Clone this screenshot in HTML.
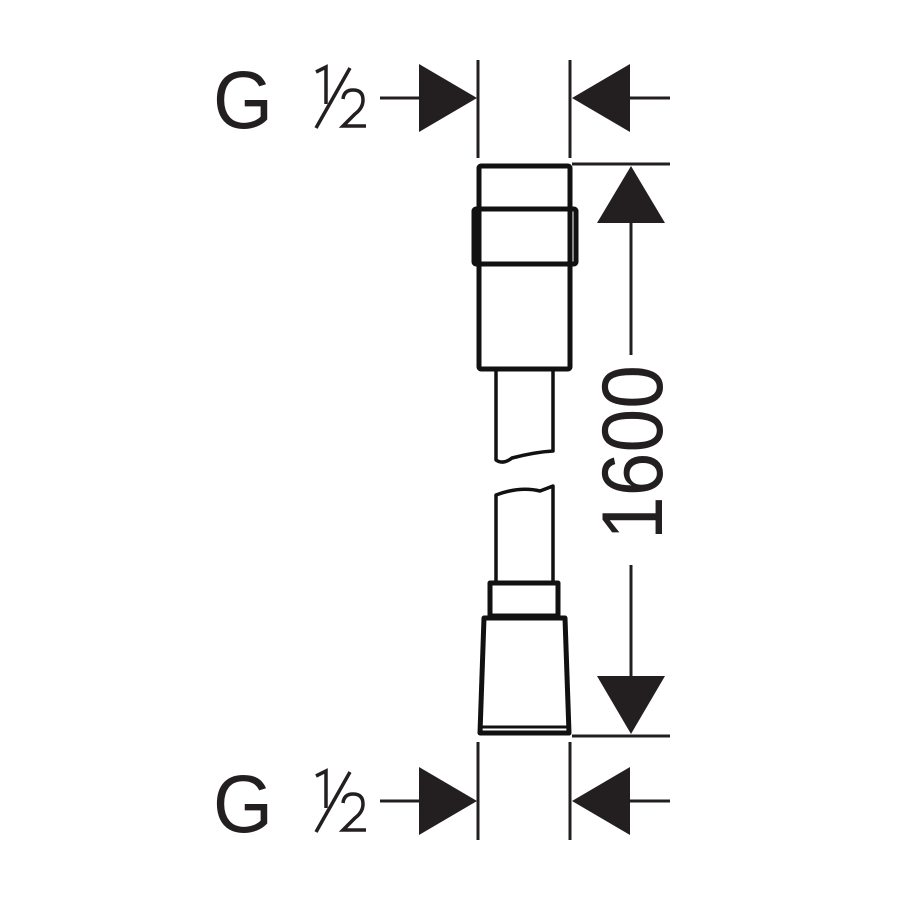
<!DOCTYPE html>
<html><head><style>html,body{margin:0;padding:0;background:#fff}svg{display:block}</style></head>
<body>
<svg width="900" height="900" viewBox="0 0 900 900" xmlns="http://www.w3.org/2000/svg">
<g stroke="#231f20" fill="none" stroke-width="3">
<line x1="478" y1="60" x2="478" y2="158"/>
<line x1="570" y1="60" x2="570" y2="158"/>
<line x1="380" y1="98" x2="420" y2="98"/>
<line x1="630" y1="98" x2="670" y2="98"/>
<line x1="478" y1="742" x2="478" y2="840"/>
<line x1="570" y1="742" x2="570" y2="840"/>
<line x1="380" y1="801" x2="420" y2="801"/>
<line x1="630" y1="801" x2="670" y2="801"/>
<line x1="572" y1="164" x2="670" y2="164"/>
<line x1="572" y1="736" x2="670" y2="736"/>
<line x1="631" y1="220" x2="631" y2="355"/>
<line x1="631" y1="565" x2="631" y2="678"/>
</g>
<g fill="#231f20">
<polygon points="419,64 477,98 419,132"/>
<polygon points="630,64 572,98 630,132"/>
<polygon points="419,767 477,801 419,835"/>
<polygon points="630,767 572,801 630,835"/>
<polygon points="631,166 665,223 597,223"/>
<polygon points="631,734 665,676 597,676"/>
</g>
<g stroke="#111" fill="none" stroke-width="5" stroke-linejoin="round">
<rect x="479" y="166" width="91" height="203" rx="2"/>
<rect x="474" y="209" width="102" height="55" rx="2"/>
<rect x="490" y="583" width="68" height="33"/>
<path d="M484 618 L565 618 L569 733 L480 733 Z"/>
<line x1="482" y1="727" x2="568" y2="727" stroke-width="3"/>
</g>
<g stroke="#111" fill="none" stroke-width="3.5" stroke-linejoin="round">
<path d="M496 370 L496 460 Q503 465 512 458 Q535 452 553 451 L553 370"/>
<path d="M496 582 L496 495 Q520 486 540 491 Q548 488 553 486 L553 582"/>
</g>
<g fill="#231f20" font-family="Liberation Sans, sans-serif">
<text x="213" y="128" font-size="82" textLength="60" lengthAdjust="spacingAndGlyphs">G</text>
<text x="213" y="832" font-size="82" textLength="60" lengthAdjust="spacingAndGlyphs">G</text>
<text x="0" y="0" font-size="86" textLength="175" lengthAdjust="spacingAndGlyphs" transform="translate(662,540) rotate(-90)">1600</text>
</g>
<g stroke="#231f20" stroke-width="3.5" fill="none">
<path d="M316 72 L326 67 L326 104"/>
<line x1="316" y1="128" x2="350" y2="68"/>
<path d="M343 99 Q344 90 353 90 Q363 90 363 100 Q363 108 355 114 L343 126 L366 126"/>
<path d="M316 776 L326 771 L326 808"/>
<line x1="316" y1="832" x2="350" y2="772"/>
<path d="M343 803 Q344 794 353 794 Q363 794 363 804 Q363 812 355 818 L343 830 L366 830"/>
</g>
</svg>
</body></html>
